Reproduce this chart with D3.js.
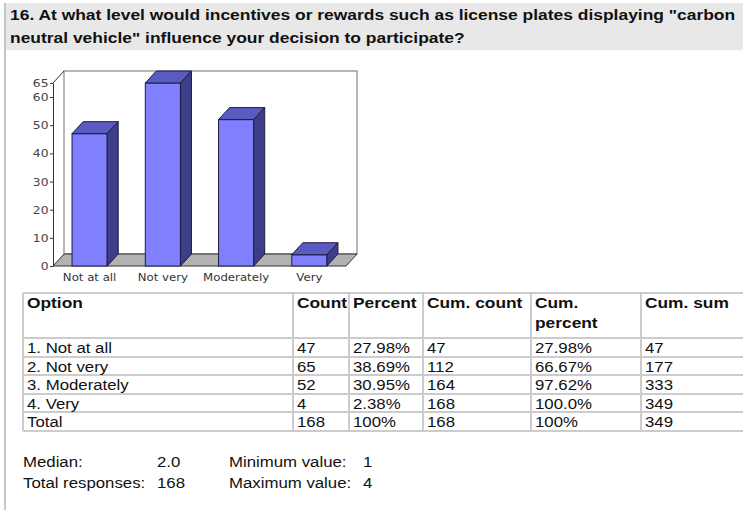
<!DOCTYPE html>
<html>
<head>
<meta charset="utf-8">
<style>
  body { margin: 0; background: #fff; }
  svg { display: block; }
</style>
</head>
<body>
<svg></svg>
<script src="https://d3js.org/d3.v7.min.js"></script>
<script>

// ---- data ----
var titleLines = ["16. At what level would incentives or rewards such as license plates displaying \"carbon",
                  "neutral vehicle\" influence your decision to participate?"];
var categories = ["Not at all", "Not very", "Moderately", "Very"];
var counts = [47, 65, 52, 4];
var yTicks = [0, 10, 20, 30, 40, 50, 60, 65];

var headers = ["Option", "Count", "Percent", "Cum. count", "Cum.|percent", "Cum. sum"];
var options = ["1. Not at all", "2. Not very", "3. Moderately", "4. Very", "Total"];
var tableCounts = [47, 65, 52, 4, 168];
var percents = ["27.98%", "38.69%", "30.95%", "2.38%", "100%"];
var cumCounts = [47, 112, 164, 168, 168];
var cumPercents = ["27.98%", "66.67%", "97.62%", "100.0%", "100%"];
var cumSums = [47, 177, 333, 349, 349];

var statLabels = [["Median:", "Total responses:"], ["Minimum value:", "Maximum value:"]];
var statValues = [["2.0", "168"], ["1", "4"]];

// ---- layout ----
var W = 743, H = 510,
    sx = 1.12,            // the screenshot is a bit stretched sideways
    depth = {x: 11, y: -12};

var svg = d3.select("svg").attr("width", W).attr("height", H);

function stretched(sel, x, y, s) {
  return sel.attr("transform", "translate(" + x + "," + y + ") scale(" + (s || sx) + ",1)");
}

// title band + left rule
svg.append("rect")
    .attr("x", 5).attr("y", 3)
    .attr("width", W - 5).attr("height", 47)
    .attr("fill", "#e8e8e8");
svg.append("line")
    .attr("x1", 5).attr("x2", 5).attr("y1", 3).attr("y2", H)
    .attr("stroke", "#c6c6c6").attr("stroke-width", 2);

svg.selectAll(".title").data(titleLines).enter().append("text")
    .attr("class", "title")
    .each(function(d, i) { stretched(d3.select(this), 10, 20 + i * 23, 1.125); })
    .style("font-family", "'Liberation Sans', Arial, sans-serif")
    .style("font-size", "15.5px")
    .style("font-weight", "bold")
    .attr("fill", "#111")
    .text(function(d) { return d; });

// ---- 3d bar chart ----
var x = d3.scaleBand().domain(categories).range([53, 346]).paddingInner(0.52).paddingOuter(0.26);
var y = d3.scaleLinear().domain([0, 65]).range([266, 83]);

var x0 = x.range()[0], x1 = x.range()[1], y0 = y(0), yTop = y(65);

// back wall
svg.append("rect")
    .attr("x", x0 + depth.x).attr("y", yTop + depth.y)
    .attr("width", x1 - x0).attr("height", y0 - yTop)
    .attr("fill", "#fff").attr("stroke", "#888").attr("stroke-width", 1.2);

// floor
svg.append("path")
    .attr("d", "M" + x0 + "," + y0 + "L" + x1 + "," + y0 +
               "L" + (x1 + depth.x) + "," + (y0 + depth.y) +
               "L" + (x0 + depth.x) + "," + (y0 + depth.y) + "Z")
    .attr("fill", "#b2b2b2").attr("stroke", "#333").attr("stroke-width", 1);

// left wall edge at the top
svg.append("line")
    .attr("x1", x0).attr("y1", yTop)
    .attr("x2", x0 + depth.x).attr("y2", yTop + depth.y)
    .attr("stroke", "#333");

var bars = svg.selectAll(".bar").data(categories).enter().append("g").attr("class", "bar");
var bw = x.bandwidth();

bars.append("rect")
    .attr("x", function(d) { return x(d); })
    .attr("y", function(d, i) { return y(counts[i]); })
    .attr("width", bw)
    .attr("height", function(d, i) { return y0 - y(counts[i]); })
    .attr("fill", "#8080ff").attr("stroke", "#1c1c44").attr("stroke-width", 1);

bars.append("path")
    .attr("d", function(d, i) {
      var l = x(d), t = y(counts[i]);
      return "M" + l + "," + t + "L" + (l + depth.x) + "," + (t + depth.y) +
             "L" + (l + bw + depth.x) + "," + (t + depth.y) + "L" + (l + bw) + "," + t + "Z";
    })
    .attr("fill", "#5a5ac0").attr("stroke", "#1c1c44").attr("stroke-width", 1);

bars.append("path")
    .attr("d", function(d, i) {
      var r = x(d) + bw, t = y(counts[i]);
      return "M" + r + "," + t + "L" + (r + depth.x) + "," + (t + depth.y) +
             "L" + (r + depth.x) + "," + (y0 + depth.y) + "L" + r + "," + y0 + "Z";
    })
    .attr("fill", "#3e3e88").attr("stroke", "#1c1c44").attr("stroke-width", 1);

// y axis
var yAxis = svg.append("g")
    .attr("transform", "translate(" + x0 + ",0)")
    .call(d3.axisLeft(y).tickValues(yTicks).tickSize(3).tickSizeOuter(0));
yAxis.select(".domain").attr("stroke", "#333");
yAxis.selectAll(".tick line").attr("stroke", "#333");
yAxis.selectAll(".tick text")
    .attr("transform", "scale(" + sx + ",1)")
    .attr("x", -4)
    .style("font-family", "'DejaVu Sans', sans-serif")
    .style("font-size", "11px")
    .attr("fill", "#444");

// category labels
svg.selectAll(".cat").data(categories).enter().append("text")
    .attr("class", "cat")
    .each(function(d) { stretched(d3.select(this), x(d) + bw / 2, 281); })
    .attr("text-anchor", "middle")
    .style("font-family", "'DejaVu Sans', sans-serif")
    .style("font-size", "10.5px")
    .attr("fill", "#333")
    .text(function(d) { return d; });

// ---- table ----
var colX = [23, 293, 349, 423, 531, 641, 745];
var rowY = [293, 338, 357, 375, 394, 412, 431];

var rows = options.map(function(o, i) {
  return [o, tableCounts[i], percents[i], cumCounts[i], cumPercents[i], cumSums[i]];
});

var table = svg.append("g").attr("class", "table");

// cell borders
rowY.forEach(function(ry) {
  table.append("line").attr("x1", colX[0]).attr("x2", W).attr("y1", ry).attr("y2", ry);
});
colX.forEach(function(cx) {
  table.append("line").attr("x1", cx).attr("x2", cx).attr("y1", rowY[0]).attr("y2", rowY[rowY.length - 1]);
});
table.selectAll("line").attr("stroke", "#cccccc").attr("stroke-width", 2);

var font = "'Liberation Sans', Arial, sans-serif";

headers.forEach(function(h, c) {
  h.split("|").forEach(function(part, k) {
    stretched(table.append("text"), colX[c] + 4, 308 + k * 20)
        .style("font-family", font).style("font-size", "15.5px").style("font-weight", "bold")
        .attr("fill", "#111").text(part);
  });
});

rows.forEach(function(r, i) {
  r.forEach(function(v, c) {
    stretched(table.append("text"), colX[c] + 4, rowY[i + 1] + 14.5)
        .style("font-family", font).style("font-size", "15px")
        .attr("fill", "#111").text(v);
  });
});

// ---- summary stats ----
var statX = [[23, 157], [229, 363]];
statLabels.forEach(function(col, c) {
  col.forEach(function(lbl, k) {
    stretched(svg.append("text"), statX[c][0], 467 + k * 21)
        .style("font-family", font).style("font-size", "15px").attr("fill", "#111").text(lbl);
    stretched(svg.append("text"), statX[c][1], 467 + k * 21)
        .style("font-family", font).style("font-size", "15px").attr("fill", "#111").text(statValues[c][k]);
  });
});

</script>
</body>
</html>
